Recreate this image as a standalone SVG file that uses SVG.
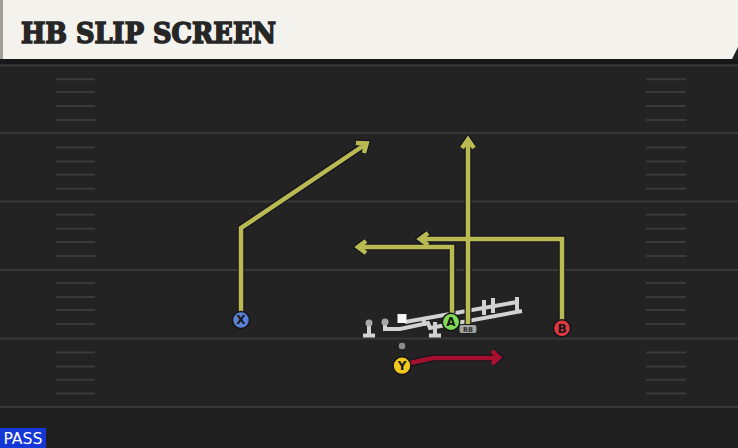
<svg xmlns="http://www.w3.org/2000/svg" xmlns:xlink="http://www.w3.org/1999/xlink" width="738" height="448" viewBox="0 0 738 448">
<style>
.yl{stroke:#383838;stroke-width:2}
.hash{stroke:#3a3a3a;stroke-width:2}
.rt-o{fill:none;stroke:#15151f;stroke-width:7;stroke-linejoin:miter;stroke-linecap:butt}
.rt-i{fill:none;stroke:#b9ba52;stroke-width:4.5;stroke-linejoin:miter;stroke-linecap:butt}
.rd-i{fill:none;stroke:#a3112f;stroke-width:4.5;stroke-linejoin:miter;stroke-linecap:butt}
.pl{stroke:#15151a;stroke-width:1.5}
.lt{font-family:"DejaVu Sans","Liberation Sans",sans-serif;font-weight:bold;font-size:12px;fill:#181818;text-anchor:middle}
.sled{fill:none;stroke:#d2d2d2;stroke-width:4;stroke-linecap:butt;stroke-linejoin:miter}
</style>
<defs>
<path id="rX" d="M241,312 V228 L366,144 M356,143 L366.7,143.3 L364,153"/>
<path id="rRB" d="M468,325 V140 M462,148 L468,139.5 L474,148"/>
<path id="rA" d="M452,313 V247 H358 M366,241 L358,247 L366,253"/>
<path id="rB" d="M562,320 V239 H420 M428,233 L420,239 L428,245"/>
<path id="rY" d="M410,363 L433,358 H499 M492,351 L499,357.5 L492,364"/>
</defs>
<rect x="0" y="0" width="738" height="448" fill="#232323"/>
<rect x="0" y="407" width="738" height="41" fill="#1f1f1f"/>
<g id="field">
<line class="yl" x1="0" y1="65.5" x2="738" y2="65.5"/>
<line class="yl" x1="0" y1="133" x2="738" y2="133"/>
<line class="yl" x1="0" y1="201.5" x2="738" y2="201.5"/>
<line class="yl" x1="0" y1="270" x2="738" y2="270"/>
<line class="yl" x1="0" y1="338.5" x2="738" y2="338.5"/>
<line class="yl" x1="0" y1="407" x2="738" y2="407"/>
<g class="hash">
<path d="M56,79.3H95M56,92H95M56,106H95M56,120H95M56,147.5H95M56,161.5H95M56,174.7H95M56,188.7H95M56,214.7H95M56,228.7H95M56,242H95M56,256H95M56,283H95M56,297H95M56,310H95M56,324H95M56,352.5H95M56,366.5H95M56,379.7H95M56,393.5H95"/>
<path d="M646,79.3H686M646,92H686M646,106H686M646,120H686M646,147.5H686M646,161.5H686M646,174.7H686M646,188.7H686M646,214.7H686M646,228.7H686M646,242H686M646,256H686M646,283H686M646,297H686M646,310H686M646,324H686M646,352.5H686M646,366.5H686M646,379.7H686M646,393.5H686"/>
</g>
</g>
<g id="header">
<rect x="0" y="59" width="738" height="5" fill="#171717"/>
<path d="M0,0 H738 V47 L732,59 H0 Z" fill="#f4f2ed"/>
<rect x="0" y="0" width="3" height="59" fill="#a09f9b"/>
<text x="21" y="42.5" font-family="'DejaVu Serif','Liberation Serif',serif" font-weight="bold" font-size="28" fill="#262626" stroke="#262626" stroke-width="1.6" stroke-linejoin="miter" textLength="255" lengthAdjust="spacingAndGlyphs">HB SLIP SCREEN</text>
</g>
<g id="oline">
<path class="sled" d="M369,323 V335 M363,335.5 H375"/>
<circle cx="369" cy="323" r="3.5" fill="#a8a8a8"/>
<path class="sled" d="M435,322 V335 M429,335.5 H441"/>
<path class="sled" d="M385,322 V329 H400 L428,323 L430,328 L522,311"/>
<path class="sled" d="M405,322 L517,302 M517,297 V310 M484,300 V315 M493,298 V313 M424,319 V326"/>
<circle cx="385" cy="322" r="3.5" fill="#a8a8a8"/>
<rect x="397.5" y="314" width="9" height="9" fill="#f6f6f6"/>
</g>
<g id="connectors">
<use xlink:href="#rX" class="rt-o"/>
<use xlink:href="#rRB" class="rt-o"/>
<use xlink:href="#rA" class="rt-o"/>
<use xlink:href="#rB" class="rt-o"/>
<use xlink:href="#rY" class="rt-o"/>
<use xlink:href="#rX" class="rt-i"/>
<use xlink:href="#rRB" class="rt-i"/>
<use xlink:href="#rA" class="rt-i"/>
<use xlink:href="#rB" class="rt-i"/>
<use xlink:href="#rY" class="rd-i"/>
</g>
<g id="center-dot"><circle cx="402" cy="346" r="4" fill="#8a8a8a" stroke="#1a1a1a" stroke-width="1"/></g>
<g id="X"><circle class="pl" cx="241" cy="320" r="8.5" fill="#5a81d6"/><text class="lt" x="241" y="324.3">X</text></g>
<g id="A"><circle class="pl" cx="451" cy="322" r="8.7" fill="#7fdc55"/><text class="lt" x="451" y="326.3">A</text></g>
<g id="B"><circle class="pl" cx="562" cy="328.3" r="8.5" fill="#e2393f"/><text class="lt" x="562" y="332.6">B</text></g>
<g id="Y"><circle class="pl" cx="402" cy="365.7" r="8.9" fill="#f1c81e"/><text class="lt" x="402" y="370">Y</text></g>
<g id="RB"><rect x="459" y="324.5" width="18" height="9" rx="2.5" fill="#a4a4a4" stroke="#1a1a1a" stroke-width="1"/><text x="468" y="331.7" font-family="'DejaVu Sans','Liberation Sans',sans-serif" font-size="6.5" font-weight="bold" fill="#2a2a2a" text-anchor="middle">RB</text></g>
<g id="pass"><rect x="0" y="428" width="46" height="20" fill="#1637d8"/><text x="23" y="444" font-family="'DejaVu Sans Condensed','DejaVu Sans',sans-serif" font-size="15" fill="#ffffff" text-anchor="middle" textLength="39" lengthAdjust="spacingAndGlyphs">PASS</text></g>
</svg>
